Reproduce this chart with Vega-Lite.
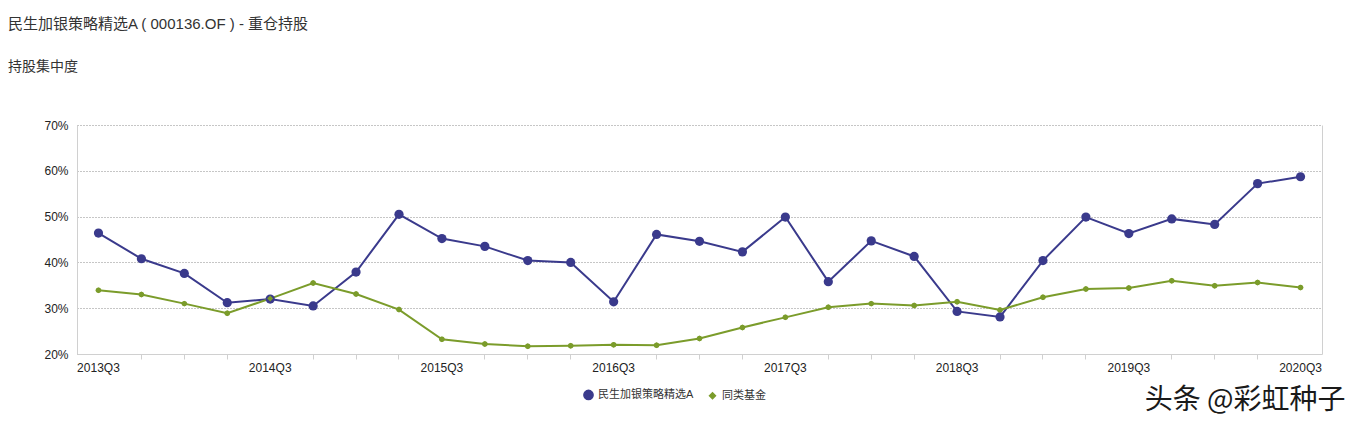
{
  "$schema": "https://vega.github.io/schema/vega-lite/v6.json",
  "width": 1245,
  "height": 229,
  "autosize": {"type": "none"},
  "padding": {"left": 77, "top": 125, "right": 40, "bottom": 73},
  "background": "white",
  "config": {
    "font": "Liberation Sans, Noto Sans CJK SC, sans-serif",
    "view": {"stroke": null}
  },
  "title": {
    "text": "民生加银策略精选A ( 000136.OF ) - 重仓持股",
    "subtitle": "持股集中度",
    "anchor": "start",
    "frame": "group",
    "dx": -69,
    "offset": 45,
    "font": "Liberation Sans, Noto Sans CJK SC, sans-serif",
    "fontSize": 15,
    "fontWeight": "normal",
    "color": "#333333",
    "subtitleFont": "Liberation Sans, Noto Sans CJK SC, sans-serif",
    "subtitleFontSize": 14,
    "subtitleColor": "#333333",
    "subtitlePadding": 28
  },
  "data": {
    "values": [
      {"q": "2013Q3", "s": "民生加银策略精选A", "v": 46.4},
      {"q": "2013Q4", "s": "民生加银策略精选A", "v": 40.8},
      {"q": "2014Q1", "s": "民生加银策略精选A", "v": 37.6},
      {"q": "2014Q2", "s": "民生加银策略精选A", "v": 31.2},
      {"q": "2014Q3", "s": "民生加银策略精选A", "v": 32.0},
      {"q": "2014Q4", "s": "民生加银策略精选A", "v": 30.5},
      {"q": "2015Q1", "s": "民生加银策略精选A", "v": 37.9},
      {"q": "2015Q2", "s": "民生加银策略精选A", "v": 50.5},
      {"q": "2015Q3", "s": "民生加银策略精选A", "v": 45.2},
      {"q": "2015Q4", "s": "民生加银策略精选A", "v": 43.5},
      {"q": "2016Q1", "s": "民生加银策略精选A", "v": 40.4},
      {"q": "2016Q2", "s": "民生加银策略精选A", "v": 40.0},
      {"q": "2016Q3", "s": "民生加银策略精选A", "v": 31.4},
      {"q": "2016Q4", "s": "民生加银策略精选A", "v": 46.1},
      {"q": "2017Q1", "s": "民生加银策略精选A", "v": 44.6},
      {"q": "2017Q2", "s": "民生加银策略精选A", "v": 42.3},
      {"q": "2017Q3", "s": "民生加银策略精选A", "v": 49.9},
      {"q": "2017Q4", "s": "民生加银策略精选A", "v": 35.8},
      {"q": "2018Q1", "s": "民生加银策略精选A", "v": 44.7},
      {"q": "2018Q2", "s": "民生加银策略精选A", "v": 41.3},
      {"q": "2018Q3", "s": "民生加银策略精选A", "v": 29.3},
      {"q": "2018Q4", "s": "民生加银策略精选A", "v": 28.1},
      {"q": "2019Q1", "s": "民生加银策略精选A", "v": 40.4},
      {"q": "2019Q2", "s": "民生加银策略精选A", "v": 49.9},
      {"q": "2019Q3", "s": "民生加银策略精选A", "v": 46.3},
      {"q": "2019Q4", "s": "民生加银策略精选A", "v": 49.5},
      {"q": "2020Q1", "s": "民生加银策略精选A", "v": 48.3},
      {"q": "2020Q2", "s": "民生加银策略精选A", "v": 57.2},
      {"q": "2020Q3", "s": "民生加银策略精选A", "v": 58.7},
      {"q": "2013Q3", "s": "同类基金", "v": 33.9},
      {"q": "2013Q4", "s": "同类基金", "v": 33.0},
      {"q": "2014Q1", "s": "同类基金", "v": 31.0},
      {"q": "2014Q2", "s": "同类基金", "v": 28.9},
      {"q": "2014Q3", "s": "同类基金", "v": 32.1},
      {"q": "2014Q4", "s": "同类基金", "v": 35.5},
      {"q": "2015Q1", "s": "同类基金", "v": 33.1},
      {"q": "2015Q2", "s": "同类基金", "v": 29.7},
      {"q": "2015Q3", "s": "同类基金", "v": 23.2},
      {"q": "2015Q4", "s": "同类基金", "v": 22.2},
      {"q": "2016Q1", "s": "同类基金", "v": 21.7},
      {"q": "2016Q2", "s": "同类基金", "v": 21.8},
      {"q": "2016Q3", "s": "同类基金", "v": 22.0},
      {"q": "2016Q4", "s": "同类基金", "v": 21.9},
      {"q": "2017Q1", "s": "同类基金", "v": 23.4},
      {"q": "2017Q2", "s": "同类基金", "v": 25.8},
      {"q": "2017Q3", "s": "同类基金", "v": 28.0},
      {"q": "2017Q4", "s": "同类基金", "v": 30.2},
      {"q": "2018Q1", "s": "同类基金", "v": 31.0},
      {"q": "2018Q2", "s": "同类基金", "v": 30.6},
      {"q": "2018Q3", "s": "同类基金", "v": 31.4},
      {"q": "2018Q4", "s": "同类基金", "v": 29.6},
      {"q": "2019Q1", "s": "同类基金", "v": 32.4},
      {"q": "2019Q2", "s": "同类基金", "v": 34.2},
      {"q": "2019Q3", "s": "同类基金", "v": 34.4},
      {"q": "2019Q4", "s": "同类基金", "v": 36.0},
      {"q": "2020Q1", "s": "同类基金", "v": 34.9},
      {"q": "2020Q2", "s": "同类基金", "v": 35.6},
      {"q": "2020Q3", "s": "同类基金", "v": 34.5}
    ]
  },
  "encoding": {
    "x": {
      "field": "q",
      "type": "ordinal",
      "sort": null,
      "scale": {"type": "band", "paddingInner": 0, "paddingOuter": 0},
      "axis": {
        "title": "头条 @彩虹种子",
        "titleFont": "Noto Sans CJK SC",
        "titleFontSize": 28,
        "titleFontWeight": "normal",
        "titleColor": "#1a1a1a",
        "titleAnchor": "end",
        "titleAlign": "right",
        "titleBaseline": "alphabetic",
        "titleX": 1268,
        "titleY": 54,
        "labelAngle": 0,
        "labelFontSize": 12,
        "labelColor": "#222222",
        "labelPadding": 3,
        "labelExpr": "slice(datum.value, 4) == 'Q3' ? datum.value : ''",
        "labelOverlap": false,
        "tickSize": 5,
        "tickColor": {
          "condition": {"test": "slice(datum.value, 4) == 'Q3'", "value": "transparent"},
          "value": "#d0d0d0"
        },
        "domainColor": "#d0d0d0",
        "grid": false
      }
    },
    "color": {
      "field": "s",
      "type": "nominal",
      "scale": {"domain": ["民生加银策略精选A", "同类基金"], "range": ["#3a3a8c", "#7b9c2b"]},
      "legend": {
        "title": null,
        "orient": "none",
        "legendX": 506,
        "legendY": 264,
        "direction": "horizontal",
        "labelFontSize": 11,
        "labelColor": "#333333",
        "symbolSize": 50,
        "columnPadding": 12,
        "labelOffset": 4
      }
    },
    "shape": {
      "field": "s",
      "type": "nominal",
      "scale": {"domain": ["民生加银策略精选A", "同类基金"], "range": ["circle", "diamond"]},
      "legend": {
        "title": null,
        "orient": "none",
        "legendX": 506,
        "legendY": 264,
        "direction": "horizontal",
        "labelFontSize": 11,
        "labelColor": "#333333",
        "symbolSize": 50,
        "columnPadding": 12,
        "labelOffset": 4
      }
    }
  },
  "layer": [
    {
      "mark": {"type": "line", "strokeWidth": 2},
      "encoding": {
        "y": {
          "field": "v",
          "type": "quantitative",
          "scale": {"domain": [20, 70], "nice": false, "zero": false},
          "axis": {
            "title": null,
            "values": [20, 30, 40, 50, 60, 70],
            "labelExpr": "datum.value + '%'",
            "labelFontSize": 12,
            "labelColor": "#222222",
            "labelPadding": 9,
            "ticks": false,
            "domainColor": "#d0d0d0",
            "grid": true,
            "gridColor": "#8c8c8c",
            "gridDash": [1, 2],
            "gridWidth": 1
          }
        },
        "shape": {"value": null}
      }
    },
    {
      "mark": {"type": "point", "filled": true, "opacity": 1},
      "encoding": {
        "y": {
          "field": "v",
          "type": "quantitative",
          "axis": {
            "orient": "right",
            "title": null,
            "labels": false,
            "ticks": false,
            "grid": false,
            "domainColor": "#d0d0d0"
          }
        },
        "size": {
          "field": "s",
          "type": "nominal",
          "scale": {"domain": ["民生加银策略精选A", "同类基金"], "range": [85, 35]},
          "legend": null
        }
      }
    }
  ],
  "resolve": {"axis": {"y": "independent"}}
}
